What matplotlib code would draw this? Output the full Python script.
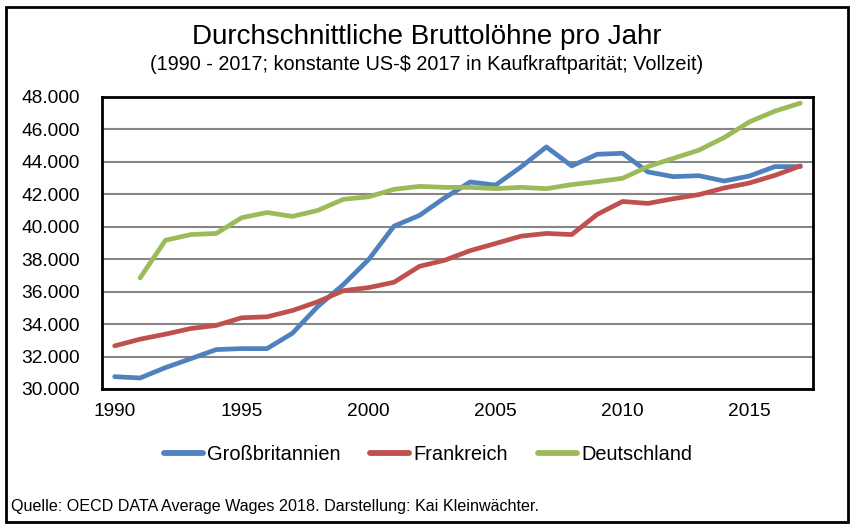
import matplotlib.pyplot as plt
from matplotlib.ticker import FuncFormatter
from matplotlib.patches import Rectangle

plt.rcParams['font.family'] = ['Liberation Sans', 'DejaVu Sans']

years = list(range(1990, 2018))
gb = [30760, 30680, 31320, 31870, 32430, 32490, 32490, 33440, 35090, 36430,
      37980, 40040, 40700, 41790, 42760, 42570, 43690, 44920, 43750, 44470,
      44530, 43380, 43090, 43150, 42820, 43130, 43710, 43710]
fr = [32660, 33070, 33380, 33730, 33920, 34390, 34450, 34840, 35380, 36060,
      36250, 36580, 37560, 37940, 38530, 38970, 39420, 39590, 39520, 40760,
      41560, 41440, 41730, 41980, 42390, 42700, 43170, 43750]
de_years = years[1:]
de = [36850, 39170, 39520, 39590, 40560, 40880, 40640, 41010, 41690,
      41850, 42310, 42490, 42430, 42430, 42350, 42430, 42350, 42600, 42780,
      42990, 43710, 44220, 44720, 45500, 46470, 47130, 47620]

fig = plt.figure(figsize=(8.54, 5.28), dpi=100)
ax = fig.add_axes([102/854, 1-389/528, 711/854, 292/528])

ax.plot(years, gb, color='#4F81BD', lw=3.4, label='Großbritannien', solid_capstyle='round')
ax.plot(years, fr, color='#C0504D', lw=3.4, label='Frankreich', solid_capstyle='round')
ax.plot(de_years, de, color='#9BBB59', lw=3.4, label='Deutschland', solid_capstyle='round')

ax.set_xlim(1989.5, 2017.5)
ax.set_ylim(30000, 48000)
ax.set_yticks(range(30000, 48001, 2000))
ax.set_xticks(range(1990, 2016, 5))
ax.yaxis.set_major_formatter(FuncFormatter(lambda v, p: f'{int(v):,}'.replace(',', '.')))
ax.tick_params(length=0, labelsize=13.8)
ax.tick_params(axis='x', pad=10)
ax.tick_params(axis='y', pad=16)
ax.grid(axis='y', color='#868686', lw=1.5)
ax.set_axisbelow(True)
for s in ax.spines.values():
    s.set_linewidth(2)
    s.set_color('black')

fig.text(0.5, 1-43.5/528, 'Durchschnittliche Bruttolöhne pro Jahr', ha='center', va='baseline', fontsize=20)
fig.text(0.5, 1-69.5/528, '(1990 - 2017; konstante US-$ 2017 in Kaufkraftparität; Vollzeit)',
         ha='center', va='baseline', fontsize=14.3)
fig.text(11/854, 1-511.5/528, 'Quelle: OECD DATA Average Wages 2018. Darstellung: Kai Kleinwächter.',
         ha='left', va='baseline', fontsize=11.6)

leg = fig.legend(loc='center', bbox_to_anchor=(428/854, 1-454/528), ncol=3, frameon=False,
                 fontsize=14.4, handlelength=1.95, columnspacing=1.5, handletextpad=0.2)
for h in leg.get_lines():
    h.set_linewidth(4.2)

fig.patches.append(Rectangle((6/854, 1-522/528), 842/854, 515/528, transform=fig.transFigure,
                             fill=False, edgecolor='black', lw=2))

fig.savefig('out.png', dpi=100)
